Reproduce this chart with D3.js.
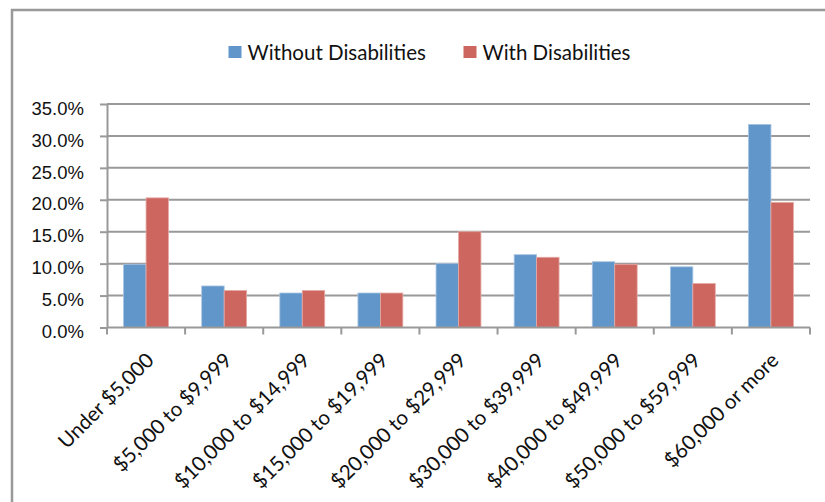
<!DOCTYPE html>
<html>
<head>
<meta charset="utf-8">
<script src="https://cdn.jsdelivr.net/npm/d3@7"></script>
<style>
	body { margin: 0; background: #fff; }
	svg { display: block; font-family: Lato, "Open Sans", sans-serif; }
	.axis path, .axis line { stroke: #999; stroke-width: 2; }
	.axis text { fill: #111; font-size: 18.5px; }
	.axis text.cat { font-size: 20.5px; }
</style>
</head>
<body>
<svg id="chart" width="825" height="502"></svg>
<script>
// income brackets along the bottom
const categories = ["Under $5,000", "$5,000 to $9,999", "$10,000 to $14,999", "$15,000 to $19,999",
	"$20,000 to $29,999", "$30,000 to $39,999", "$40,000 to $49,999", "$50,000 to $59,999", "$60,000 or more"]
const seriesNames = ["Without Disabilities", "With Disabilities"]
const seriesColors = ["#6096c9", "#cc665f"]
// percent of households
const withoutDisabilities = [9.9, 6.5, 5.4, 5.4, 10.0, 11.4, 10.3, 9.5, 31.8]
const withDisabilities = [20.3, 5.8, 5.8, 5.4, 15.0, 11.0, 9.9, 6.9, 19.6]
const yTicks = [0, 5, 10, 15, 20, 25, 30, 35]

const svg = d3.select("#chart")

// outer frame, only left and top edges show in the window
svg.append("rect")
	.attr("x", 12).attr("y", 10)
	.attr("width", 840).attr("height", 520)
	.attr("fill", "none")
	.attr("stroke", "#999")
	.attr("stroke-width", 2.5)

const plot = { left: 107, right: 810, top: 104, bottom: 327.5 }

const x0 = d3.scaleBand().domain(categories).range([plot.left, plot.right])
const x1 = d3.scaleBand().domain(seriesNames).range([0, x0.bandwidth()]).paddingOuter(0.74)
const y = d3.scaleLinear().domain([0, 35]).range([plot.bottom, plot.top])

// gridlines
svg.append("g")
	.selectAll("line")
	.data(yTicks.filter(t => t > 0))
	.join("line")
		.attr("x1", plot.left).attr("x2", plot.right)
		.attr("y1", d => y(d)).attr("y2", d => y(d))
		.attr("stroke", "#999")
		.attr("stroke-width", 2)

// y axis
const yAxis = svg.append("g")
	.classed("axis", true)
	.attr("transform", `translate(${plot.left},0)`)
	.call(d3.axisLeft(y).tickValues(yTicks).tickSize(7).tickSizeOuter(0).tickPadding(16).tickFormat(d => d.toFixed(1) + "%"))
yAxis.selectAll("text").attr("dy", "0.55em")

// bars
const rows = categories.map((c, i) => ({ cat: c, vals: [withoutDisabilities[i], withDisabilities[i]] }))
svg.append("g")
	.selectAll("g")
	.data(rows)
	.join("g")
		.attr("transform", d => `translate(${x0(d.cat)},0)`)
	.selectAll("rect")
	.data(d => d.vals.map((v, j) => ({ name: seriesNames[j], v: v, j: j })))
	.join("rect")
		.attr("x", d => x1(d.name))
		.attr("width", x1.bandwidth())
		.attr("y", d => y(d.v))
		.attr("height", d => y(0) - y(d.v))
		.attr("fill", d => seriesColors[d.j])
		.attr("stroke", d => d.j === 0 ? "#a8c3e2" : "#e6aaa6")
		.attr("stroke-width", 0.8)

// x axis with ticks between the categories
const xAxis = svg.append("g")
	.classed("axis", true)
	.attr("transform", `translate(0,${plot.bottom})`)
xAxis.append("line")
	.attr("x1", plot.left).attr("x2", plot.right)
	.attr("stroke", "#999").attr("stroke-width", 2)
xAxis.selectAll("line.tick")
	.data(categories.map(c => x0(c)).concat([plot.right]))
	.join("line")
		.classed("tick", true)
		.attr("x1", d => d).attr("x2", d => d)
		.attr("y1", 0).attr("y2", 7)
		.attr("stroke", "#999").attr("stroke-width", 2)
xAxis.selectAll("text")
	.data(categories)
	.join("text")
		.classed("cat", true)
		.attr("text-anchor", "end")
		.attr("transform", d => `translate(${x0(d) + x0.bandwidth() / 2 + 9},34) rotate(-45)`)
		.text(d => d)

// legend
const legendX = [228.5, 463.5]
const legend = svg.append("g")
	.selectAll("g")
	.data(seriesNames)
	.join("g")
		.attr("transform", (d, i) => `translate(${legendX[i]},46)`)
legend.append("rect")
	.attr("width", 13).attr("height", 12)
	.attr("fill", (d, i) => seriesColors[i])
legend.append("text")
	.attr("x", 19).attr("y", 14)
	.attr("font-size", 20.5)
	.attr("fill", "#111")
	.text(d => d)
</script>
</body>
</html>
